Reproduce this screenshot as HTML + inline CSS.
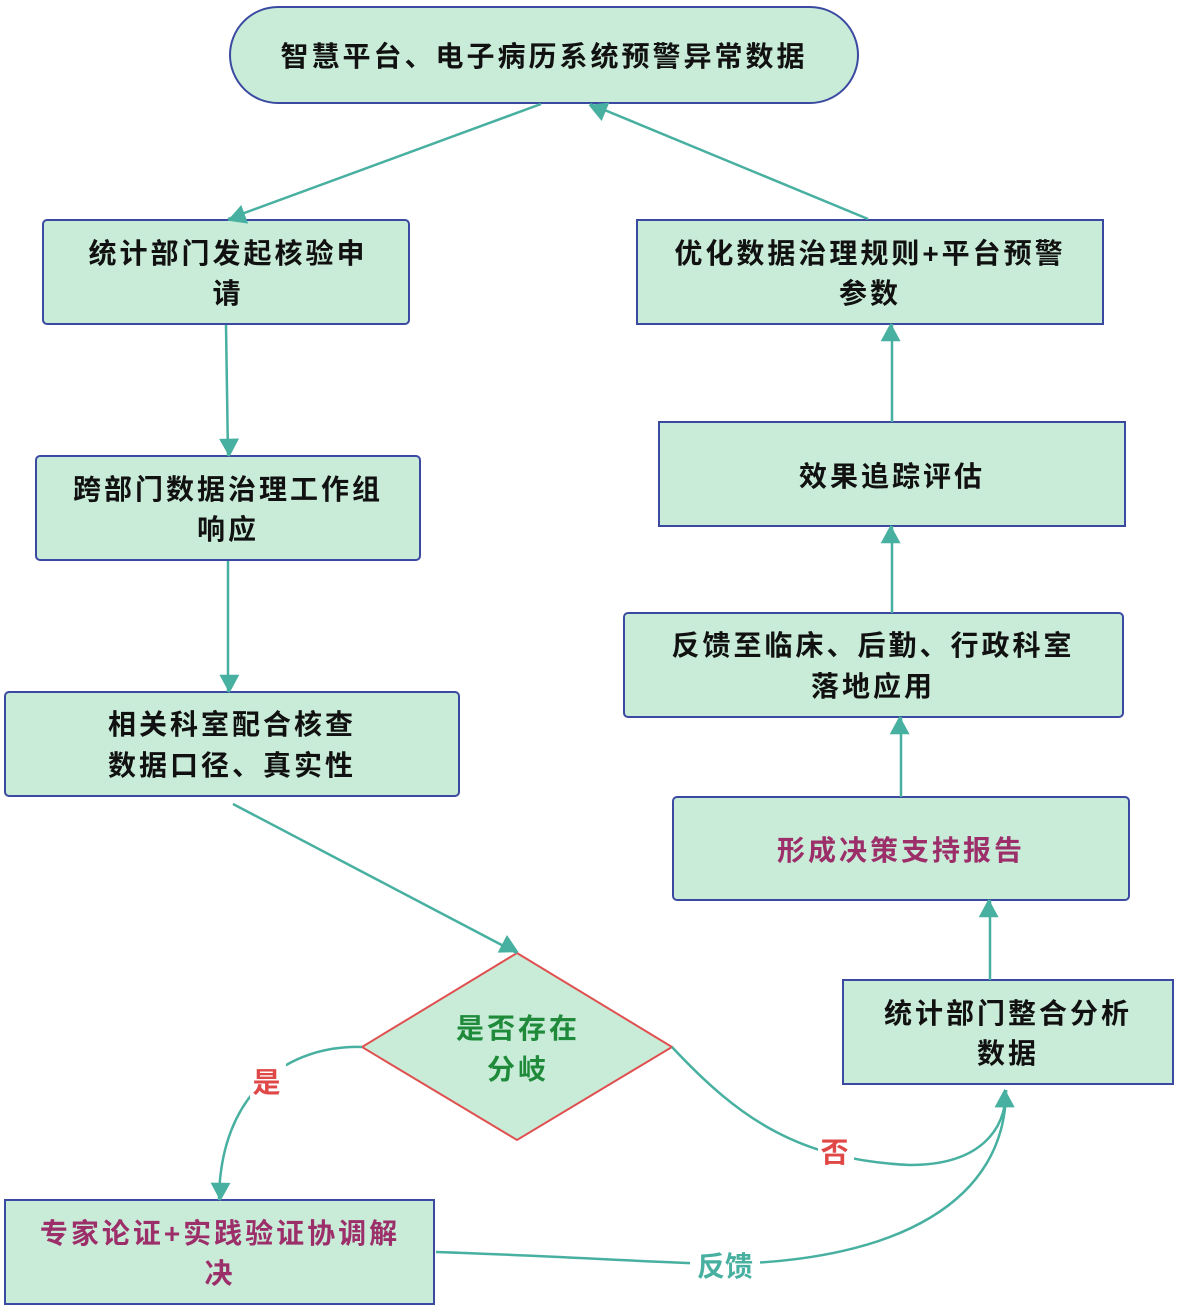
<!DOCTYPE html>
<html><head><meta charset="utf-8"><style>
body{margin:0;background:#fff}
text{font-family:"Liberation Sans","Noto Sans CJK SC",sans-serif;font-weight:bold;font-size:28px;text-anchor:middle;letter-spacing:3px}
</style></head><body>
<svg width="1178" height="1308" xmlns="http://www.w3.org/2000/svg">
<defs><marker id="a" viewBox="0 0 10 10" refX="9" refY="5" markerWidth="9" markerHeight="9" markerUnits="userSpaceOnUse" orient="auto" style="overflow:visible"><path d="M-14,-8 L10,5 L-14,18 Z" fill="#47b0a0" transform="scale(0.85) translate(2,-0.9)"/></marker></defs>
<g fill="#c9ecd9" stroke="#3b4aa0" stroke-width="2">
<rect x="230" y="7" width="628" height="96" rx="48"/>
<rect x="43" y="220" width="366" height="104" rx="4"/>
<rect x="36" y="456" width="384" height="104" rx="4"/>
<rect x="5" y="692" width="454" height="104" rx="4"/>
<rect x="5" y="1200" width="429" height="104"/>
<rect x="843" y="980" width="330" height="104"/>
<rect x="673" y="797" width="456" height="103" rx="4"/>
<rect x="624" y="613" width="499" height="104" rx="4"/>
<rect x="659" y="422" width="466" height="104"/>
<rect x="637" y="220" width="466" height="104"/>
</g>
<polygon points="517,953 672,1047 517,1140 362,1047" fill="#c9ecd9" stroke="#e05050" stroke-width="2"/>
<g fill="none" stroke="#47b0a0" stroke-width="2.5" marker-end="url(#a)">
<line x1="541" y1="104" x2="228" y2="219"/>
<line x1="868" y1="219" x2="590" y2="104"/>
<line x1="226" y1="325" x2="228" y2="456"/>
<line x1="228" y1="561" x2="228" y2="692"/>
<line x1="233" y1="804" x2="517" y2="953"/>
<path d="M362,1047 C290,1045 220,1090 219,1200"/>
<path d="M672,1047 C740,1120 800,1160 910,1165 C980,1165 1006,1130 1006,1090"/>
<path d="M436,1252 C560,1256 640,1262 720,1264 C900,1262 1006,1200 1006,1090"/>
<line x1="990" y1="980" x2="990" y2="900"/>
<line x1="901" y1="797" x2="901" y2="717"/>
<line x1="892" y1="613" x2="892" y2="526"/>
<line x1="892" y1="422" x2="892" y2="324"/>
</g>
<rect x="250" y="1062" width="36" height="36" fill="#fff"/>
<rect x="818" y="1132" width="36" height="36" fill="#fff"/>
<rect x="690" y="1246" width="70" height="36" fill="#fff"/>
<g fill="#111">
<text x="544" y="66">智慧平台、电子病历系统预警异常数据</text>
<text x="228" y="263">统计部门发起核验申</text><text x="228" y="303">请</text>
<text x="228" y="499">跨部门数据治理工作组</text><text x="228" y="539">响应</text>
<text x="232" y="734">相关科室配合核查</text><text x="232" y="775">数据口径、真实性</text>
<text x="1008" y="1023">统计部门整合分析</text><text x="1008" y="1063">数据</text>
<text x="873" y="655">反馈至临床、后勤、行政科室</text><text x="873" y="696">落地应用</text>
<text x="892" y="486">效果追踪评估</text>
<text x="870" y="263">优化数据治理规则+平台预警</text><text x="870" y="303">参数</text>
</g>
<g fill="#9c2f6a">
<text x="220" y="1243">专家论证+实践验证协调解</text><text x="220" y="1283">决</text>
<text x="901" y="860">形成决策支持报告</text>
</g>
<g fill="#1f8a3a"><text x="518" y="1038">是否存在</text><text x="518" y="1079">分岐</text></g>
<text x="268" y="1092" fill="#e04848">是</text>
<text x="836" y="1162" fill="#e04848">否</text>
<text x="725" y="1276" fill="#47b0a0" style="letter-spacing:0">反馈</text>
</svg>
</body></html>
